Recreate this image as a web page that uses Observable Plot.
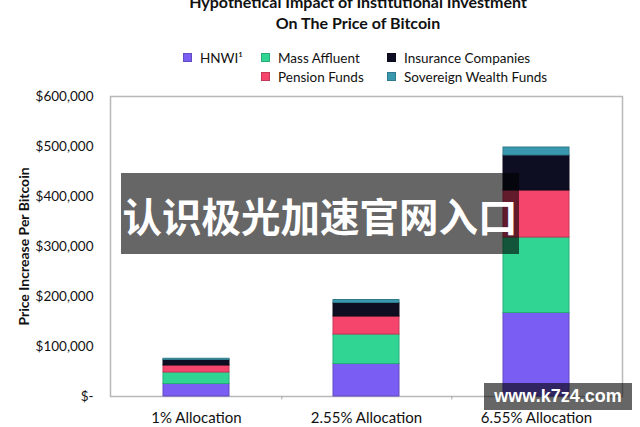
<!DOCTYPE html>
<html>
<head>
<meta charset="utf-8">
<script src="https://cdn.jsdelivr.net/npm/d3@7"></script>
<script src="https://cdn.jsdelivr.net/npm/@observablehq/plot@0.6"></script>
<style>
  html, body { margin: 0; padding: 0; background: #fff; }
  #wrap { position: relative; width: 640px; height: 427px; overflow: hidden; font-family: Lato, "Open Sans", sans-serif; color: #111; }
  #chart { position: absolute; left: 0; top: 0; }
  .title { position: absolute; left: 158px; width: 400px; text-align: center; font-weight: 700; font-size: 16px; line-height: 21px; top: -9px; }
  .leg { position: absolute; font-size: 13.5px; line-height: 16px; white-space: nowrap; }
  .sw { position: absolute; width: 9px; height: 9px; }
  .wm1 { position: absolute; left: 121px; top: 173px; width: 398px; height: 81px; background: rgba(0,0,0,0.6); color: #fff; font-family: "Noto Sans CJK SC", sans-serif; font-weight: 700; font-size: 39.5px; line-height: 84px; text-align: center; }
  .wm2 { position: absolute; left: 484px; top: 383px; width: 148px; height: 27px; background: rgba(0,0,0,0.6); color: #fff; font-family: "Liberation Sans", sans-serif; font-weight: 700; font-size: 18px; line-height: 27px; text-align: center; }
</style>
</head>
<body>
<div id="wrap"></div>
<script>
const titleLines = ["Hypothetical Impact of Institutional Investment", "On The Price of Bitcoin"];
const categories = ["1% Allocation", "2.55% Allocation", "6.55% Allocation"];
const seriesNames = ["HNWI", "Mass Affluent", "Pension Funds", "Insurance Companies", "Sovereign Wealth Funds"];
const legendLabels = ["HNWI\u00b9", "Mass Affluent", "Pension Funds", "Insurance Companies", "Sovereign Wealth Funds"];
const seriesColors = ["#7a5df2", "#30d593", "#f5456c", "#0e0e22", "#3a98ae"];
const hnwi = [25000, 65000, 167000];
const massAffluent = [23000, 59000, 151000];
const pensionFunds = [14000, 36000, 94000];
const insuranceCompanies = [11000, 27000, 70000];
const sovereignWealthFunds = [2500, 6000, 16000];
const yTicks = [0, 100000, 200000, 300000, 400000, 500000, 600000];
const yLabel = "Price Increase Per Bitcoin";
const watermark1 = "认识极光加速官网入口";
const watermark2 = "www.k7z4.com";

const seriesValues = [hnwi, massAffluent, pensionFunds, insuranceCompanies, sovereignWealthFunds];
const data = [];
categories.forEach((c, i) => {
  seriesNames.forEach((s, j) => {
    data.push({category: c, series: s, value: seriesValues[j][i], color: seriesColors[j]});
  });
});

const plot = Plot.plot({
  width: 640,
  height: 427,
  marginTop: 96,
  marginBottom: 31,
  marginLeft: 110,
  marginRight: 18,
  style: {fontFamily: "Lato, 'Open Sans', sans-serif", fontSize: "13.5px", color: "#111", background: "transparent"},
  x: {domain: categories, padding: 0, label: null, tickSize: 0, tickPadding: 16},
  y: {domain: [0, 600000], ticks: yTicks, label: null, tickSize: 0, tickPadding: 17,
      tickFormat: d => d === 0 ? "$-" : "$" + d3.format(",")(d)},
  marks: [
    Plot.frame({stroke: "#b8b8b8", strokeWidth: 1.5}),
    Plot.ruleX(categories.slice(0, 2), {x: d => d, y1: 0, y2: -7000, dx: 85.33, stroke: "#aaa"}),
    Plot.barY(data, Plot.stackY({
      x: "category", y: "value", z: "series",
      fill: d => d.color,
      stroke: d => d3.color(d.color).darker(0.6).formatHex(),
      strokeWidth: 1,
      insetLeft: 52, insetRight: 52
    })),
    Plot.text([yLabel], {frameAnchor: "left", dx: -86, rotate: -90, textAnchor: "middle",
      fontWeight: 700, fontSize: 14, fill: "#111"})
  ]
});
plot.id = "chart";
plot.querySelectorAll("g[aria-label='x-axis tick label'] text").forEach(t => t.style.fontSize = "15px");
const wrap = document.getElementById("wrap");
wrap.appendChild(plot);

const t = document.createElement("div");
t.className = "title";
t.innerHTML = titleLines.join("<br>");
wrap.appendChild(t);

const legendPos = [[183, 53], [261, 53], [261, 72], [387, 53], [387, 72]];
seriesNames.forEach((s, j) => {
  const [x, y] = legendPos[j];
  const sw = document.createElement("div");
  sw.className = "sw";
  sw.style.left = x + "px";
  sw.style.top = y + "px";
  sw.style.background = seriesColors[j];
  sw.style.border = "1px solid " + d3.color(seriesColors[j]).darker(0.6).formatHex();
  sw.style.boxSizing = "border-box";
  wrap.appendChild(sw);
  const lb = document.createElement("div");
  lb.className = "leg";
  lb.style.left = (x + 17) + "px";
  lb.style.top = (y - 3) + "px";
  lb.textContent = legendLabels[j];
  wrap.appendChild(lb);
});

const w1 = document.createElement("div");
w1.className = "wm1";
w1.textContent = watermark1;
wrap.appendChild(w1);
const w2 = document.createElement("div");
w2.className = "wm2";
w2.textContent = watermark2;
wrap.appendChild(w2);
</script>
</body>
</html>
